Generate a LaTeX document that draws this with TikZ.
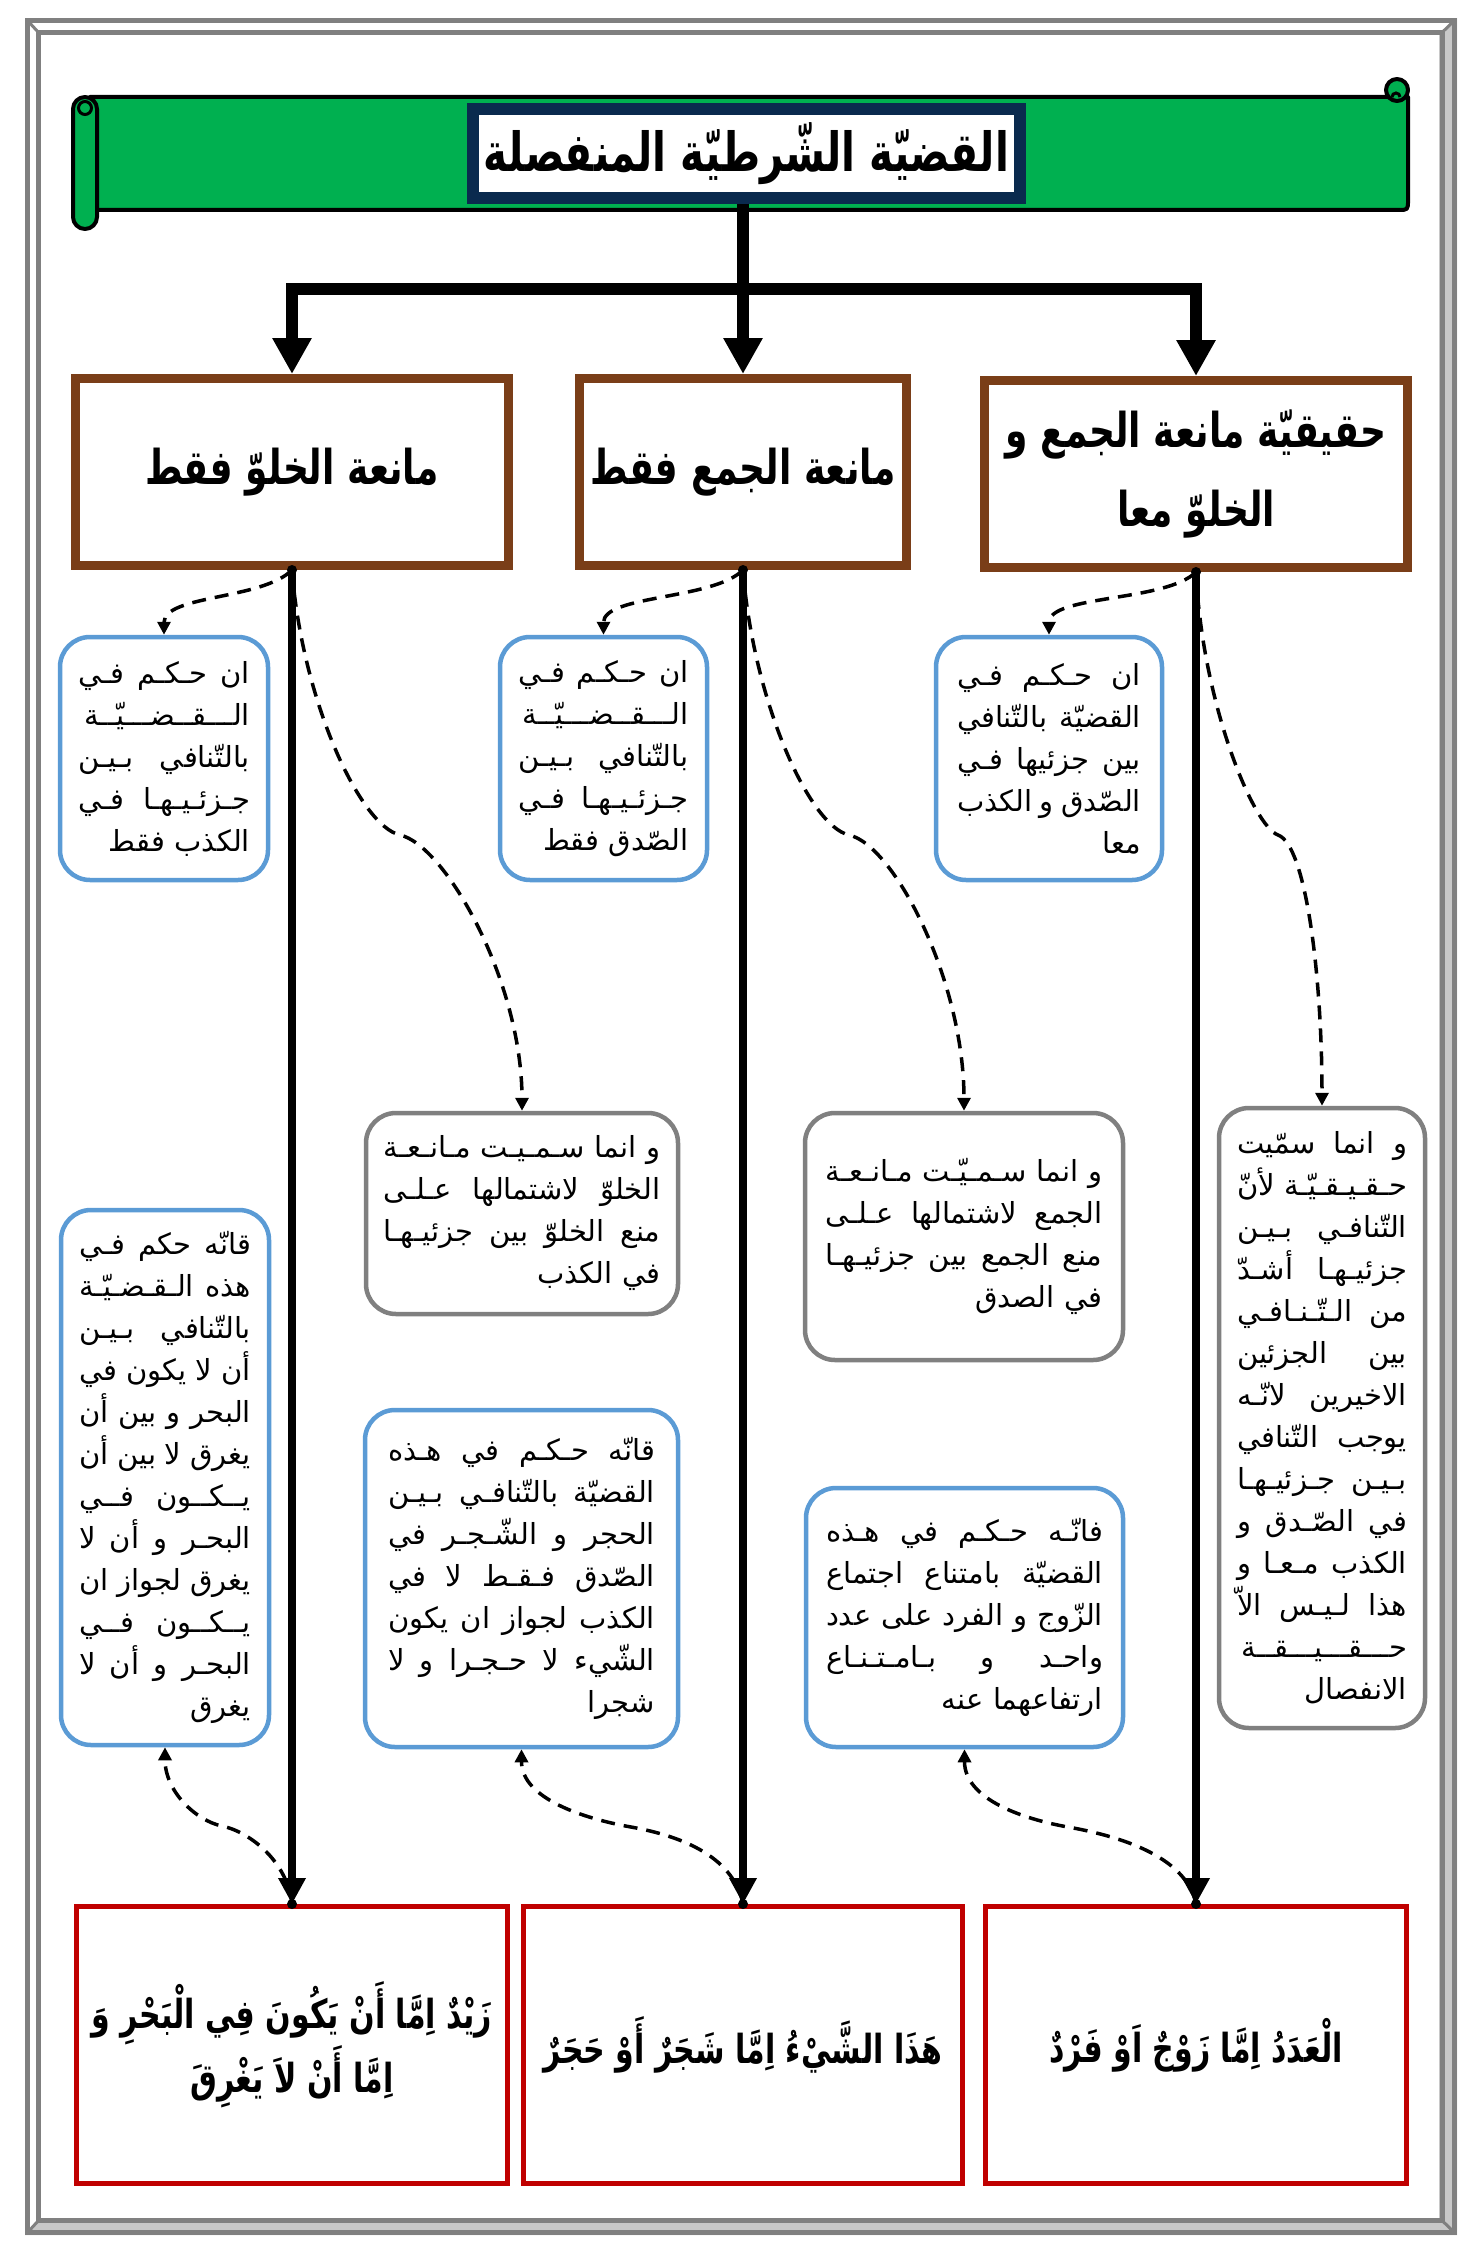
\documentclass[tikz,border=0pt]{standalone}
\usepackage{fontspec}
\usetikzlibrary{arrows.meta}
\TeXXeTstate=1
\newfontfamily\arabicfont[Script=Arabic]{DejaVu Sans}
\newfontfamily\arbold[Script=Arabic,FakeStretch=0.75]{DejaVu Sans Bold}
\newcommand\AR[1]{\beginR #1\endR}
\newcommand\JL[1]{\leavevmode\hbox to\hsize{\spaceskip=.25em plus 1fill\relax\beginR #1\endR}}
\definecolor{navy}{HTML}{0A2A4E}
\definecolor{bgreen}{HTML}{00B050}
\definecolor{brownb}{HTML}{7A3E18}
\definecolor{blueb}{HTML}{5B9BD5}
\definecolor{grayb}{HTML}{808080}
\definecolor{redb}{HTML}{C00000}
\definecolor{framed}{HTML}{808080}
\definecolor{framel}{HTML}{C8C8C8}
\begin{document}
\begin{tikzpicture}[x=1pt,y=-1pt,
  lbox/.style={draw=brownb, line width=9pt, fill=white, minimum height=187pt, inner sep=0pt,
    font=\arbold\fontsize{48}{79}\selectfont, align=center},
  rbox/.style={draw=redb, line width=5pt, fill=white, minimum height=277pt, inner sep=0pt,
    font=\arbold\fontsize{40}{62}\selectfont, align=center},
  bbox/.style={draw=blueb, line width=4.5pt, rounded corners=30pt, fill=white, inner sep=0pt,
    font=\arabicfont\fontsize{29}{42}\selectfont, align=right},
  gbox/.style={bbox, draw=grayb},
  thickarrow/.style={line width=12pt, -{Triangle[width=37pt,length=36pt]}},
  vline/.style={line width=8pt, -{Triangle[width=26pt,length=26pt]}},
  dashc/.style={line width=3.5pt, dash pattern=on 14pt off 9pt, -{Triangle[width=13pt,length=13pt]}},
  bannerline/.style={line width=4pt, line join=round}
]
\useasboundingbox (0,0) rectangle (1477,2258);
% ---- bevelled frame
\fill[framel] (1457,18) -- (1457,2235) -- (25,2235) -- (41,2218) -- (1439,2218) -- (1439,35) -- cycle;
\draw[framed, line width=5pt] (27.5,20.5) rectangle (1454.5,2232.5);
\draw[framed, line width=5pt] (38.5,32.5) rectangle (1442,2220.5);
\draw[framed, line width=3pt] (27.5,20.5) -- (38.5,32.5) (1454.5,20.5) -- (1442,32.5)
  (27.5,2232.5) -- (38.5,2220.5) (1454.5,2232.5) -- (1442,2220.5);
% ---- banner (scroll)
\filldraw[fill=bgreen, bannerline] (90,97) -- (1408,97) -- (1408,200) .. controls (1408,210) .. (1398,210) -- (90,210) -- cycle;
\filldraw[fill=bgreen, bannerline, rounded corners=12pt] (73,97) rectangle (97,229);
\draw[line width=3pt] (85,108) circle (6.5);
\filldraw[fill=bgreen, bannerline] (1397,90) circle (11);
\draw[line width=3pt] (1392,97) arc (180:360:4);
% ---- title
\node[draw=navy, line width=12pt, fill=white, minimum width=547pt, minimum height=89pt, inner sep=0pt]
  (title) at (746.5,153.5) {\arbold\fontsize{54}{58}\selectfont\AR{القضيّة الشّرطيّة المنفصلة}};
% ---- level 2 boxes
\node[lbox, minimum width=433pt] (L1) at (292,472) {\AR{مانعة الخلوّ فقط}};
\node[lbox, minimum width=327pt] (L2) at (743,472) {\AR{مانعة الجمع فقط}};
\node[lbox, minimum width=423pt] (L3) at (1196,474) {\AR{حقيقيّة مانعة الجمع و}\\\AR{الخلوّ معا}};
% ---- blue boxes (top)
\node[bbox, minimum width=208pt, minimum height=243pt, text width=172pt] (B1) at (164,758.5)
 {\JL{ان حـكـم فـي}\\\AR{الـــقــضـــيّــة}\\\JL{بالتّنافي بـيـن}\\\JL{جـزئـيـهـا فـي}\\\AR{الكذب فقط}};
\node[bbox, minimum width=207pt, minimum height=243pt, text width=170pt] (B2) at (603.5,758.5)
 {\JL{ان حـكـم فـي}\\\AR{الـــقــضـــيّــة}\\\JL{بالتّنافي بـيـن}\\\JL{جـزئـيـهـا فـي}\\\AR{الصّدق فقط}};
\node[bbox, minimum width=226pt, minimum height=243pt, text width=184pt] (B3) at (1049,758.5)
 {\JL{ان حـكـم فـي}\\\JL{القضيّة بالتّنافي}\\\JL{بين جزئيها فـي}\\\JL{الصّدق و الكذب}\\\AR{معا}};
% ---- gray boxes
\node[gbox, minimum width=312pt, minimum height=201pt, text width=277pt] (G1) at (522,1213.5)
 {\JL{و انما سـمـيـت مـانـعـة}\\\JL{الخلوّ لاشتمالها عـلـى}\\\JL{منع الخلوّ بين جزئيـهـا}\\\AR{في الكذب}};
\node[gbox, minimum width=318pt, minimum height=247pt, text width=277pt] (G2) at (964,1236.5)
 {\JL{و انما سـمـيّـت مـانـعـة}\\\JL{الجمع لاشتمالها عـلـى}\\\JL{منع الجمع بين جزئيـهـا}\\\AR{في الصدق}};
\node[gbox, minimum width=206pt, minimum height=620pt, text width=170pt] (G3) at (1322,1418)
 {\JL{و انما سمّيت}\\\JL{حـقـيـقـيّـة لأنّ}\\\JL{التّنافـي بـيـن}\\\JL{جزئيـهـا أشـدّ}\\\JL{من الـتّـنـافـي}\\\JL{بين الجزئين}\\\JL{الاخيرين لانّـه}\\\JL{يوجب التّنافي}\\\JL{بـيـن جـزئيـهـا}\\\JL{في الصّـدق و}\\\JL{الكذب مـعـا و}\\\JL{هذا لـيـس الاّ}\\\AR{حـــقـــيـــقــة}\\\AR{الانفصال}};
% ---- blue boxes (bottom)
\node[bbox, minimum width=208pt, minimum height=535pt, text width=172pt] (B4) at (165,1477.5)
 {\JL{قانّه حكم فـي}\\\JL{هذه الـقـضـيّـة}\\\JL{بالتّنافي بـيـن}\\\JL{أن لا يكون في}\\\JL{البحر و بين أن}\\\JL{يغرق لا بين أن}\\\JL{يــكــون فــي}\\\JL{البحـر و أن لا}\\\JL{يغرق لجواز ان}\\\JL{يــكــون فــي}\\\JL{البحـر و أن لا}\\\AR{يغرق}};
\node[bbox, minimum width=313pt, minimum height=337pt, text width=267pt] (B5) at (521.5,1578.5)
 {\JL{قانّه حـكـم في هـذه}\\\JL{القضيّة بالتّنافـي بـيـن}\\\JL{الحجر و الشّـجـر في}\\\JL{الصّدق فـقـط لا في}\\\JL{الكذب لجواز ان يكون}\\\JL{الشّيء لا حـجـرا و لا}\\\AR{شجرا}};
\node[bbox, minimum width=317pt, minimum height=259pt, text width=277pt] (B6) at (964.5,1617.5)
 {\JL{فانّـه حـكـم في هـذه}\\\JL{القضيّة بامتناع اجتماع}\\\JL{الزّوج و الفرد على عدد}\\\JL{واحـد و بـامـتـنـاع}\\\AR{ارتفاعهما عنه}};
% ---- red boxes
\node[rbox, minimum width=431pt] (R1) at (292,2045) {\AR{زَيْدٌ اِمَّا أَنْ يَكُونَ فِي الْبَحْرِ وَ}\\\AR{اِمَّا أَنْ لاَ يَغْرِقَ}};
\node[rbox, minimum width=439pt] (R2) at (743,2045) {\AR{هَذَا الشَّيْءُ اِمَّا شَجَرٌ أَوْ حَجَرٌ}};
\node[rbox, minimum width=421pt] (R3) at (1196,2045) {\AR{الْعَدَدُ اِمَّا زَوْجٌ اَوْ فَرْدٌ}};
% ---- title connectors
\coordinate (J) at (743,289);
\draw[thickarrow] (title.south -| J) -- (J) -| (L1.north);
\draw[thickarrow] (title.south -| J) -- (L2.north);
\draw[thickarrow] (J) -| (L3.north);
% ---- vertical lines
\draw[vline] (L1.south) -- (R1.north);
\draw[vline] (L2.south) -- (R2.north);
\draw[vline] (L3.south) -- (R3.north);
% ---- dashed connectors: to upper blue boxes
\draw[dashc] (L1.south) .. controls +(-30,30) and +(0,-40) .. (B1.north);
\draw[dashc] (L2.south) .. controls +(-30,30) and +(0,-40) .. (B2.north);
\draw[dashc] (L3.south) .. controls +(-30,30) and +(0,-40) .. (B3.north);
% ---- dashed connectors: to gray boxes
\coordinate (M1) at (400,835);
\coordinate (M2) at (849,835);
\coordinate (M3) at (1278,835);
\draw[dashc] (L1.south) .. controls +(10,130) and +(-40,-9) .. (M1) .. controls +(45,10) and +(0,-130) .. (G1.north);
\draw[dashc] (L2.south) .. controls +(10,130) and +(-40,-9) .. (M2) .. controls +(45,10) and +(0,-130) .. (G2.north);
\draw[dashc] (L3.south) .. controls +(6,130) and +(-25,-9) .. (M3) .. controls +(28,10) and +(0,-130) .. (G3.north);
% ---- dashed connectors: from red boxes to lower blue boxes
\coordinate (N1) at (222,1826);
\coordinate (N2) at (631,1827);
\coordinate (N3) at (1068,1827);
\draw[dashc] (R1.north) .. controls +(-5,-45) and +(25,5) .. (N1) .. controls +(-25,-5) and +(0,45) .. (B4.south);
\draw[dashc] (R2.north) .. controls +(-10,-50) and +(45,8) .. (N2) .. controls +(-45,-8) and +(0,50) .. (B5.south);
\draw[dashc] (R3.north) .. controls +(-10,-50) and +(45,8) .. (N3) .. controls +(-45,-8) and +(0,50) .. (B6.south);
% ---- connector dots
\foreach \n in {L1,L2,L3} \fill (\n.south) circle (5);
\foreach \n in {R1,R2,R3} \fill (\n.north) circle (5);
\end{tikzpicture}
\end{document}
